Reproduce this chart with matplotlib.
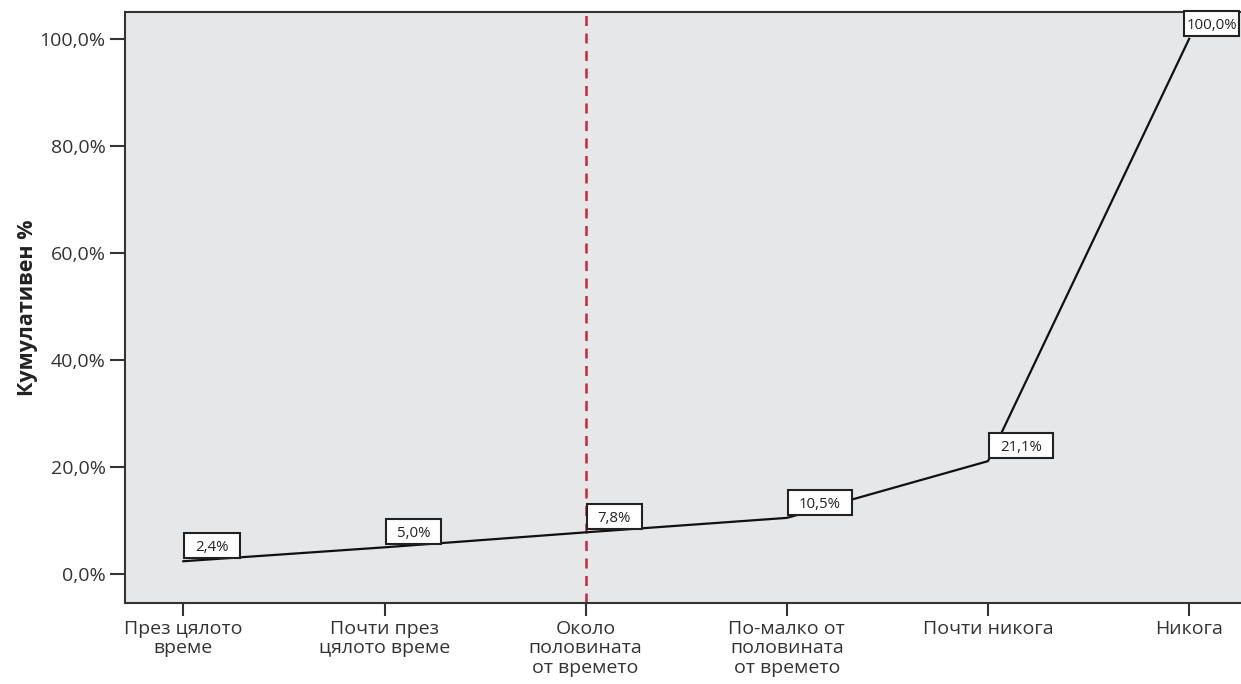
import matplotlib
matplotlib.use("Agg")
import matplotlib.pyplot as plt
from matplotlib.ticker import FuncFormatter
from matplotlib.patches import Rectangle

plt.rcParams['font.family'] = ['Open Sans', 'DejaVu Sans']

categories = ["През цялото\nвреме", "Почти през\nцялото време", "Около\nполовината\nот времето",
              "По-малко от\nполовината\nот времето", "Почти никога", "Никога"]
cumulative = [2.4, 5.0, 7.8, 10.5, 21.1, 100.0]
point_labels = ["2,4%", "5,0%", "7,8%", "10,5%", "21,1%", "100,0%"]
median_index = 2
yticks = [0, 20, 40, 60, 80, 100]

W, H = 1241, 684
fig = plt.figure(figsize=(W / 100, H / 100), dpi=100)
ax = fig.add_axes([125 / W, 1 - 603 / H, 1 - 125 / W + 0.002, (603 - 12) / H])
ax.set_facecolor('#e6e7e9')

x = list(range(len(categories)))
ax.set_xlim(-0.29, 5.27)
ax.set_ylim(-5.4, 105.0)

ax.plot(x, cumulative, color='#111111', lw=1.6, zorder=3)
ax.axvline(median_index, color='#c8283a', lw=1.8, ls=(0, (4, 3)), zorder=2)

# value boxes: lower-left corner just above each point, text centred inside
renderer = fig.canvas.get_renderer()
box_h = 25
label_fs = 10.8
for xi, yi, lab in zip(x, cumulative, point_labels):
    px, py = ax.transData.transform((xi, yi))
    t = ax.text(0, 0, lab, fontsize=label_fs, transform=None)
    tw = t.get_window_extent(renderer).width
    t.remove()
    bw = tw + 22
    left = px + 1
    bottom = py + 3
    if left + bw > W - 2:
        # squeeze the box against the right edge of the figure
        left = px - 5
        bw = W - 2 - left
    rect = Rectangle((left, bottom), bw, box_h, transform=None, fc='white', ec='#222222',
                     lw=1.5, zorder=4, clip_on=False)
    fig.add_artist(rect)
    fig.text((left + bw / 2) / W, (bottom + 7) / H, lab, fontsize=label_fs, color='#222222',
             ha='center', va='baseline', zorder=5)

ax.set_xticks(x)
ax.set_xticklabels(categories, fontsize=14, color='#333333', linespacing=1.12)
ax.set_yticks(yticks)
ax.yaxis.set_major_formatter(FuncFormatter(lambda v, p: f"{v:.1f}%".replace('.', ',')))
ax.tick_params(axis='y', length=11, width=1.5, color='#333333', labelsize=14,
               labelcolor='#333333', pad=3)
ax.tick_params(axis='x', length=9, width=1.5, color='#333333', pad=3)

for s in ax.spines.values():
    s.set_linewidth(1.5)
    s.set_color('#333333')

ax.set_ylabel("Кумулативен %", fontsize=15.5, fontweight='bold', color='#222222')
ax.yaxis.set_label_coords((38 - 125) / 1116, 0.5)

fig.savefig("out.png", dpi=100)
